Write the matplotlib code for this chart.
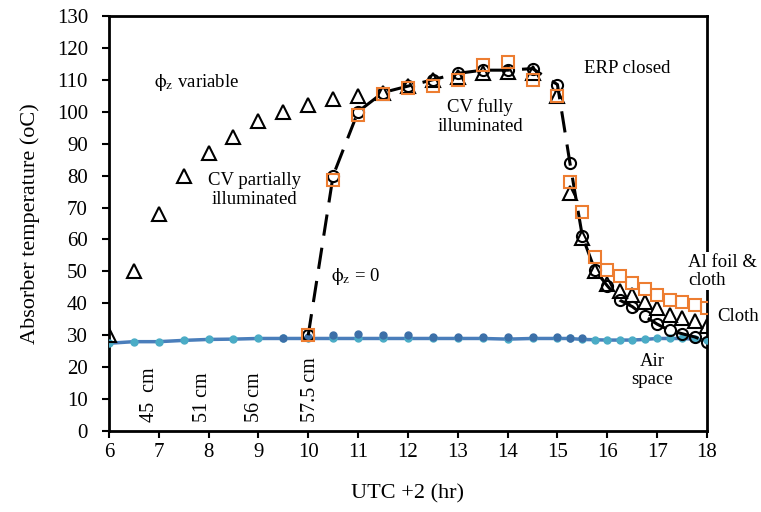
import matplotlib.pyplot as plt
import numpy as np

plt.rcParams['font.family'] = ['Liberation Serif', 'DejaVu Serif']
plt.rcParams['mathtext.fontset'] = 'stix'

# phi_z variable (triangles)
x_tri = [6, 6.5, 7, 7.5, 8, 8.5, 9, 9.5, 10, 10.5, 11, 11.5, 12, 12.5, 13, 13.5, 14, 14.5, 15,
         15.25, 15.5, 15.75, 16, 16.25, 16.5, 16.75, 17, 17.25, 17.5, 17.75, 18]
y_tri = [30, 50, 68, 80, 87, 92, 97, 100, 102, 104, 105, 106, 108, 110, 111, 112, 112.5, 112, 105,
         74.5, 60.5, 50, 46, 44, 42.5, 40.5, 38.5, 36.5, 35.5, 34.5, 33]

# phi_z = 0 (circles, dashed)
x_circ = [10, 10.5, 11, 11.5, 12, 12.5, 13, 13.5, 14, 14.5, 15,
          15.25, 15.5, 15.75, 16, 16.25, 16.5, 16.75, 17, 17.25, 17.5, 17.75, 18]
y_circ = [30, 80, 100, 106, 108, 110, 112, 113, 113, 113.5, 108.5,
          84, 61, 50.5, 45.5, 41, 39, 36, 33.5, 31.5, 30.5, 29.5, 28]

# cloth (squares)
x_sq = [10, 10.5, 11, 11.5, 12, 12.5, 13, 13.5, 14, 14.5, 15,
        15.25, 15.5, 15.75, 16, 16.25, 16.5, 16.75, 17, 17.25, 17.5, 17.75, 18]
y_sq = [30, 78.5, 99, 105.5, 107.5, 108, 110, 114.5, 115.5, 110, 105,
        78, 68.5, 54.5, 50.5, 48.5, 46.5, 44.5, 42.5, 41, 40.5, 39.5, 38.5]

# air space
x_air = [6, 6.5, 7, 7.5, 8, 8.5, 9, 9.5, 10, 10.5, 11, 11.5, 12, 12.5, 13, 13.5, 14, 14.5, 15,
         15.25, 15.5, 15.75, 16, 16.25, 16.5, 16.75, 17, 17.25, 17.5, 17.75, 18]
y_air = [27.5, 28, 28, 28.4, 28.7, 28.8, 29, 29, 29, 29, 29, 29, 29, 29, 29, 29, 28.8, 29, 29,
         29, 28.7, 28.6, 28.5, 28.5, 28.5, 28.7, 29, 29, 29, 28.8, 28.5]
x_air2 = [9.5, 10, 10.5, 11, 11.5, 12, 12.5, 13, 13.5, 14, 14.5, 15, 15.25, 15.5]
y_air2 = [29.3, 29.5, 30, 30.3, 30, 30, 29.6, 29.5, 29.5, 29.4, 29.5, 29.5, 29.3, 29.2]

fig = plt.figure(figsize=(7.61, 5.12), dpi=100)
ax = fig.add_axes([0.143, 0.158, 0.786, 0.811])

ax.plot(x_air, y_air, color='#4a7ebb', linewidth=2.5, zorder=2)
ax.plot(x_air, y_air, 'o', color='#4bacc6', markersize=5, zorder=3)
ax.plot(x_air2, y_air2, 'o', color='#3c6fa8', markersize=5, zorder=3)

ax.plot(x_circ, y_circ, color='black', linewidth=2.2, dashes=(7, 4),
        marker='o', markersize=8, mfc='none', mec='black', mew=1.5, zorder=4)
ax.plot(x_sq, y_sq, 's', markersize=9, mfc='none', mec='#ed7d31', mew=1.5, zorder=5)
ax.plot(x_tri, y_tri, '^', markersize=10, mfc='none', mec='black', mew=1.5, zorder=4)

fs = 13.5
phi = r'$\mathrm{\phi}_\mathrm{z}$'
ax.text(6.9, 109, phi + ' variable', fontsize=fs, va='center')
ax.text(8.93, 75.5, 'CV partially\nilluminated', fontsize=fs, ha='center', va='center',
        linespacing=1.1)
ax.text(13.45, 98.5, 'CV fully\nilluminated', fontsize=fs, ha='center', va='center',
        linespacing=1.1)
ax.text(16.4, 113.5, 'ERP closed', fontsize=fs, ha='center', va='center')
ax.text(17.62, 50, 'Al foil &\ncloth', fontsize=fs, ha='left', va='center', linespacing=1.1,
        bbox=dict(facecolor='white', edgecolor='none', pad=1), zorder=6, clip_on=False)
ax.text(18.2, 36, 'Cloth', fontsize=fs, ha='left', va='center', clip_on=False)
ax.text(16.9, 19, 'Air\nspace', fontsize=fs, ha='center', va='center', linespacing=1.1)
ax.text(10.45, 48.5, phi + ' = 0', fontsize=fs, va='center')

for xp, lab in [(6.82, '45  cm'), (7.87, '51 cm'), (8.93, '56 cm'), (10.05, '57.5 cm')]:
    ax.text(xp, 2.8, lab, fontsize=14.5, rotation=90, ha='center', va='bottom')

ax.set_xlim(6, 18)
ax.set_ylim(0, 130)
ax.set_xticks(np.arange(6, 19, 1))
ax.set_yticks(np.arange(0, 131, 10))
ax.tick_params(labelsize=15, direction='out', width=1.5, length=5)
ax.tick_params(axis='y', pad=10)
for s in ax.spines.values():
    s.set_linewidth(2)
ax.set_xlabel('UTC +2 (hr)', fontsize=16, labelpad=16)
ax.set_ylabel('Absorber temperature (oC)', fontsize=16, labelpad=12)

fig.savefig('out.png', dpi=100)
